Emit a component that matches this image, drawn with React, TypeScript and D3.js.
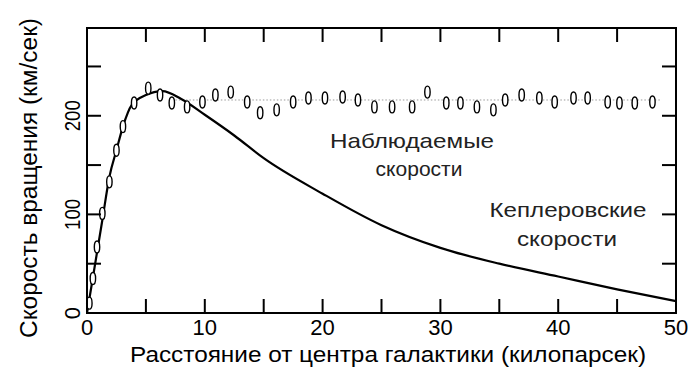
import React from "react";
import * as d3 from "d3";

// Kepler (expected) rotation curve: distance (kpc), speed (km/s)
const keplerX = [0, 0.5, 1.3, 1.9, 2.5, 3.05, 3.8, 5.0, 6.4, 8, 10, 12.5, 15, 20, 25, 30, 35, 40, 45, 50];
const keplerV = [0, 36, 94, 138, 165, 189, 211, 221, 225, 217, 201, 180, 157, 121, 89, 66, 50, 37, 24, 12];

// Observed rotation speeds
const obsX = [0.2, 0.5, 0.85, 1.3, 1.9, 2.5, 3.05, 4.0, 5.2, 6.2, 7.2, 8.5, 9.8, 10.9, 12.2, 13.6, 14.7, 16.1, 17.5, 18.8, 20.2, 21.7, 23.0, 24.4, 25.9, 27.6, 28.9, 30.5, 31.7, 33.1, 34.5, 35.5, 36.9, 38.4, 39.7, 41.3, 42.5, 44.2, 45.2, 46.5, 48.0];
const obsV = [10, 35, 67, 101, 133, 165, 189, 213, 228, 221, 213, 209, 214, 221, 224, 214, 203, 206, 214, 218, 218, 219, 216, 209, 209, 209, 224, 213, 213, 209, 206, 216, 221, 218, 214, 218, 218, 214, 213, 213, 214];

// Flat observed level (dotted guide)
const flatLevel = 216;
const flatRange = [7.5, 48.8];

const xTicks = [5, 10, 15, 20, 25, 30, 35, 40, 45];
const xLabels = [0, 10, 20, 30, 40, 50];
const yTicks = [50, 100, 150, 200, 250];
const yLabels = [0, 100, 200];

const xTitle = "Расстояние от центра галактики (килопарсек)";
const yTitle = "Скорость вращения (км/сек)";
const noteObs = ["Наблюдаемые", "скорости"];
const noteKep = ["Кеплеровские", "скорости"];

const FONT = "'Liberation Sans', Arial, Helvetica, sans-serif";

export default function App() {
  const x = d3.scaleLinear().domain([0, 50]).range([87, 676]);
  const y = d3.scaleLinear().domain([0, 289]).range([313, 28]);

  const line = d3
    .line<number>()
    .x((_, i) => x(keplerX[i]))
    .y((d) => y(d))
    .curve(d3.curveMonotoneX);

  const x0 = x(0), x1 = x(50), yTop = y(289), yBot = y(0);
  const tl = 14;

  return (
    <svg
      width={700}
      height={385}
      style={{ position: "absolute", left: 0, top: 0, background: "#fff" }}
      fontFamily={FONT}
    >
      <rect x={0} y={0} width={700} height={385} fill="#fff" />
      {/* dotted guide */}
      <line
        x1={x(flatRange[0])}
        x2={x(flatRange[1])}
        y1={y(flatLevel)}
        y2={y(flatLevel)}
        stroke="#9a9a9a"
        strokeWidth={1}
        strokeDasharray="1.5,2"
      />
      {/* Kepler curve */}
      <path d={line(keplerV) || ""} fill="none" stroke="#000" strokeWidth={2.2} />
      {/* observed ovals */}
      {obsV.map((v, i) => (
        <ellipse
          key={i}
          cx={x(obsX[i])}
          cy={y(v)}
          rx={2.7}
          ry={6}
          fill="#fff"
          stroke="#000"
          strokeWidth={1.4}
        />
      ))}
      {/* frame */}
      <rect x={x0} y={yTop} width={x1 - x0} height={yBot - yTop} fill="none" stroke="#000" strokeWidth={2} />
      {/* ticks */}
      {xTicks.map((t) => (
        <g key={"xt" + t}>
          <line x1={x(t)} x2={x(t)} y1={yBot} y2={yBot - tl} stroke="#000" strokeWidth={2} />
          <line x1={x(t)} x2={x(t)} y1={yTop} y2={yTop + tl} stroke="#000" strokeWidth={2} />
        </g>
      ))}
      {yTicks.map((t) => (
        <g key={"yt" + t}>
          <line x1={x0} x2={x0 + tl} y1={y(t)} y2={y(t)} stroke="#000" strokeWidth={2} />
          <line x1={x1} x2={x1 - tl} y1={y(t)} y2={y(t)} stroke="#000" strokeWidth={2} />
        </g>
      ))}
      {/* x tick labels */}
      {xLabels.map((t) => (
        <text key={"xl" + t} x={x(t)} y={335} fontSize={22} textAnchor="middle" fill="#000">
          {t}
        </text>
      ))}
      {/* y tick labels */}
      {yLabels.map((t) => (
        <text
          key={"yl" + t}
          transform={`translate(80,${y(t)}) rotate(-90)`}
          fontSize={22}
          textAnchor="middle"
          fill="#000"
          {...(t >= 100 ? { textLength: 31, lengthAdjust: "spacingAndGlyphs" } : {})}
        >
          {t}
        </text>
      ))}
      {/* axis titles */}
      <text x={388} y={362} fontSize={22} textAnchor="middle" fill="#000" textLength={516} lengthAdjust="spacingAndGlyphs">
        {xTitle}
      </text>
      <text
        transform={`translate(37,178) rotate(-90)`}
        fontSize={23}
        textAnchor="middle"
        fill="#000"
        textLength={320}
        lengthAdjust="spacingAndGlyphs"
      >
        {yTitle}
      </text>
      {/* annotations */}
      <text x={412} y={148} fontSize={21} textAnchor="middle" fill="#222" textLength={164} lengthAdjust="spacingAndGlyphs">
        {noteObs[0]}
      </text>
      <text x={419} y={176} fontSize={21} textAnchor="middle" fill="#222">
        {noteObs[1]}
      </text>
      <text x={568} y={217} fontSize={21} textAnchor="middle" fill="#222" textLength={157} lengthAdjust="spacingAndGlyphs">
        {noteKep[0]}
      </text>
      <text x={567} y={246} fontSize={21} textAnchor="middle" fill="#222" textLength={100} lengthAdjust="spacingAndGlyphs">
        {noteKep[1]}
      </text>
    </svg>
  );
}
